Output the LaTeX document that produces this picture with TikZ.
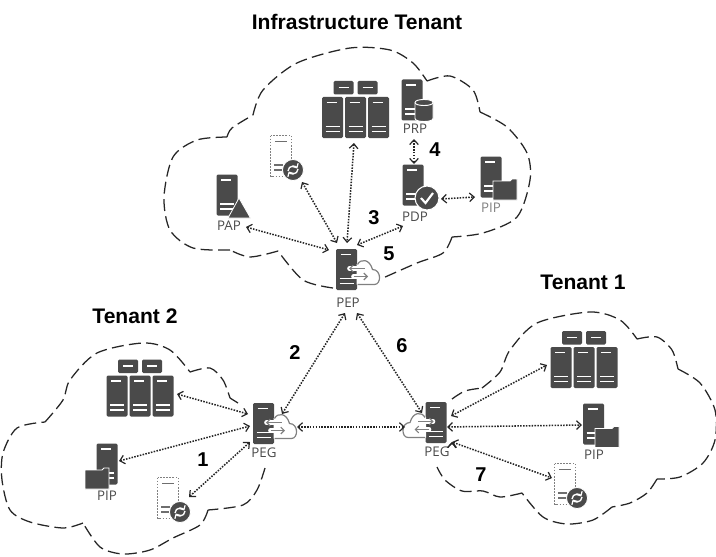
\documentclass[tikz,border=0pt]{standalone}
\usepackage{fontspec}
\setmainfont{Liberation Sans}
\newfontfamily\iconfont{Open Sans}
\usetikzlibrary{arrows.meta}
\definecolor{icondark}{HTML}{4A4A4A}
\definecolor{icongray}{HTML}{808080}
\tikzset{
	cloudline/.style={draw=black!85, line width=0.95pt, dash pattern=on 9pt off 4pt},
	link/.style={<->, >={Straight Barb[length=3.5pt,width=6.5pt,line width=0.9pt]}, black!85, line width=1.15pt, densely dotted},
	smalltip/.style={>={Straight Barb[length=2.5pt,width=5pt,line width=0.9pt]}},
	bigtitle/.style={font=\bfseries\fontsize{15.8}{18}\selectfont, inner sep=0pt},
	stepnum/.style={font=\bfseries\fontsize{15}{17}\selectfont, inner sep=0pt},
	srvname/.style={font=\iconfont\fontsize{10}{12}\selectfont, text=icondark, inner sep=0pt},
	server/.pic={
		\fill[icondark, rounded corners=1pt] (-10.5,-20.5) rectangle (10.5,20.5);
		\draw[white, line width=0.9pt] (-6,-15) -- (4,-15) (-7,9) -- (7,9) (-7,14) -- (7,14);
	},
	cluster/.pic={
		\foreach \sx in {-23,0,23} {\pic at (\sx,0) {server};}
		\foreach \sx in {-12,12} {
			\fill[icondark, rounded corners=1pt] (\sx-10,-36.5) rectangle (\sx+10,-23);
			\draw[white, line width=0.9pt] (\sx-5,-30) -- (\sx+5,-30);
		}
	},
	syncball/.pic={
		\fill[icondark, draw=white, line width=0.6pt] (0,0) circle (10.5);
		\draw[white, line width=1pt, ->, smalltip] (-5,1) arc[start angle=180, end angle=330, radius=5];
		\draw[white, line width=1pt, ->, smalltip] (5,-1) arc[start angle=0, end angle=150, radius=5];
	},
	ghost/.pic={
		\draw[icongray, line width=1.3pt, densely dotted] (-10.5,-20.5) rectangle (10.5,20.5);
		\draw[icondark!80, line width=0.9pt] (-6,-14.5) -- (6,-14.5) (-7,9) -- (2,9) (-7,14) -- (2,14);
		\pic at (12,14) {syncball};
	},
	folder/.pic={
		\fill[icondark, draw=white, line width=0.6pt] (-12,-9) -- (5,-9) -- (7,-11) -- (12,-11) -- (12,10) -- (-12,10) -- cycle;
	},
	database/.pic={
		\fill[icondark, draw=white, line width=0.7pt] (-9,-8) -- (-9,8) .. controls (-9,12) and (9,12) .. (9,8) -- (9,-8) .. controls (9,-12) and (-9,-12) .. (-9,-8) -- cycle;
		\draw[white, line width=0.7pt] (-9,-8) .. controls (-9,-4) and (9,-4) .. (9,-8);
	},
	gate/.pic={
		\pic {server};
		\fill[white] (11,-6) rectangle (28,15);
		\fill[white] (10,15) -- (10,-5) .. controls (14,-11) and (23,-11) .. (26,0) .. controls (35,0) and (35,15) .. (28,15) -- cycle;
		\draw[icongray, line width=0.9pt] (11,-5) .. controls (14,-11) and (23,-11) .. (26,0) .. controls (35,0) and (35,15) .. (28,15) -- (11,15);
		\draw[white, line width=3.5pt, line cap=round] (3,-1) -- (18,-1) (7,7) -- (21,7);
		\draw[icongray, line width=1.3pt, <-, smalltip] (2.5,-1) -- (18,-1);
		\draw[icongray, line width=1.3pt, ->, smalltip] (7,7) -- (21.5,7);
	}
}
\begin{document}
\begin{tikzpicture}[x=0.75pt,y=-0.75pt]
	\useasboundingbox (0,0) rectangle (716,556);

	% infrastructure cloud
	\draw[cloudline] plot[smooth] coordinates {(333,288) (303,280) (278,251)};
	\draw[cloudline] plot[smooth] coordinates {(278,251) (250,257) (230,250)};
	\draw[cloudline] plot[smooth] coordinates {(230,250) (193,248) (170,230) (164,197) (173,157) (197,140) (227,137)};
	\draw[cloudline] plot[smooth] coordinates {(227,137) (232,128) (253,115)};
	\draw[cloudline] plot[smooth] coordinates {(253,115) (263,90) (297,63) (350,48) (390,50) (413,63) (427,81)};
	\draw[cloudline] plot[smooth] coordinates {(427,81) (450,76) (473,90) (480,112)};
	\draw[cloudline] plot[smooth] coordinates {(480,112) (507,127) (527,153) (530,180) (517,217) (483,233) (452,237)};
	\draw[cloudline] plot[smooth] coordinates {(452,237) (443,253) (417,263) (383,278)};

	% tenant 2 cloud
	\draw[cloudline] plot[smooth] coordinates {(265,468) (257,490) (243,505) (208,510)};
	\draw[cloudline] plot[smooth] coordinates {(208,510) (200,525) (173,538) (150,550) (123,554) (100,547) (83,523)};
	\draw[cloudline] plot[smooth] coordinates {(83,523) (63,528) (30,522) (10,510) (2,480) (3,453) (17,428) (45,422)};
	\draw[cloudline] plot[smooth] coordinates {(45,422) (63,400) (70,380) (97,353) (143,343) (170,350) (190,372)};
	\draw[cloudline] plot[smooth] coordinates {(190,372) (210,368) (223,380) (230,398)};
	\draw[cloudline] (230,398) -- (238,403);

	% tenant 1 cloud
	\draw[cloudline] plot[smooth] coordinates {(452,399) (465,391) (482,388)};
	\draw[cloudline] plot[smooth] coordinates {(482,388) (500,372) (510,350) (537,323) (590,312) (620,320) (637,339)};
	\draw[cloudline] plot[smooth] coordinates {(637,339) (657,337) (672,350) (678,369)};
	\draw[cloudline] plot[smooth] coordinates {(678,369) (700,383) (715,410) (715,440) (703,463) (680,477) (657,479)};
	\draw[cloudline] plot[smooth] coordinates {(657,479) (647,493) (630,503) (612,507)};
	\draw[cloudline] plot[smooth] coordinates {(612,507) (593,520) (567,524) (543,517) (522,493)};
	\draw[cloudline] plot[smooth] coordinates {(522,493) (500,497) (483,491) (462,491) (445,480) (437,467)};

	% icons
	\pic at (355.5,117.5) {cluster};
	\pic at (412,100) {server};
	\pic at (424,110.5) {database};
	\pic at (281,156) {ghost};
	\pic at (227,195) {server};
	\filldraw[icondark, draw=white, line width=0.6pt] (239,198) -- (250.5,218) -- (228,218) -- cycle;
	\pic at (413,185) {server};
	\fill[icondark, draw=white, line width=0.8pt] (427,198) circle (12);
	\draw[white, line width=1.6pt] (421,198) -- (425.5,203) -- (433,193);
	\pic at (491,177) {server};
	\pic at (505,190) {folder};
	\pic at (346.5,269.5) {gate};

	\pic at (140,396) {cluster};
	\pic at (107,464) {server};
	\pic at (97,479) {folder};
	\pic at (168,498) {ghost};
	\pic at (263.5,423.5) {gate};

	\pic at (584,367.5) {cluster};
	\pic at (593.5,424) {server};
	\pic at (607,437.5) {folder};
	\pic at (565,484) {ghost};
	\pic[xscale=-1] at (436,422.5) {gate};

	% names
	\node[srvname] (prp) at (415,129) {PRP};
	\node[srvname] (pdp) at (415,217) {PDP};
	\node[srvname, text=icongray] (pipa) at (491,208) {PIP};
	\node[srvname] (pap) at (229,226) {PAP};
	\node[srvname] (pep) at (348,303) {PEP};
	\node[srvname] (pegb) at (264,453) {PEG};
	\node[srvname] (pipb) at (107,496) {PIP};
	\node[srvname] (pega) at (437,452) {PEG};
	\node[srvname] (pipc) at (594,455) {PIP};

	\node[bigtitle] (infra) at (357,22) {Infrastructure Tenant};
	\node[bigtitle] (tenanta) at (583,282) {Tenant 1};
	\node[bigtitle] (tenantb) at (135,316) {Tenant 2};

	\node[stepnum] (one) at (203,460) {1};
	\node[stepnum] (two) at (295,353) {2};
	\node[stepnum] (three) at (374,218) {3};
	\node[stepnum] (four) at (435,150) {4};
	\node[stepnum] (five) at (389,254) {5};
	\node[stepnum] (six) at (402,346) {6};
	\node[stepnum] (seven) at (481,475) {7};

	% link ends
	\coordinate (papE) at (246,227);
	\coordinate (pepW) at (329,250);
	\coordinate (ghostE) at (302,182);
	\coordinate (pepNW) at (337,243);
	\coordinate (clusterS) at (354,143);
	\coordinate (pepN) at (347,243);
	\coordinate (pdpW) at (403,226);
	\coordinate (pepNE) at (357,245);
	\coordinate (prpS) at (414,139);
	\coordinate (pdpN) at (414,164);
	\coordinate (pdpE) at (441,199);
	\coordinate (pipW) at (475,197);
	\coordinate (pepSW) at (345,313);
	\coordinate (pepSE) at (357,313);
	\coordinate (pegbN) at (282,414);
	\coordinate (pegaN) at (422,413);
	\coordinate (pegbE) at (297,427);
	\coordinate (pegaW) at (405,427);
	\coordinate (clusterbE) at (177,394);
	\coordinate (pegbNW) at (248,414);
	\coordinate (pipbE) at (119,461);
	\coordinate (pegbW) at (250,426);
	\coordinate (ghostbE) at (189,497);
	\coordinate (pegbSW) at (250,442);
	\coordinate (pegaNE) at (451,416);
	\coordinate (clusteraW) at (547,365);
	\coordinate (pegaE) at (447,427);
	\coordinate (pipcW) at (582,425);
	\coordinate (pegaSE) at (452,442);
	\coordinate (ghostaW) at (552,478);

	\draw[link]
		(papE) edge (pepW)
		(ghostE) edge (pepNW)
		(clusterS) edge (pepN)
		(pdpW) edge (pepNE)
		(prpS) edge (pdpN)
		(pdpE) edge (pipW)
		(pepSW) edge (pegbN)
		(pepSE) edge (pegaN)
		(pegbE) edge (pegaW)
		(clusterbE) edge (pegbNW)
		(pipbE) edge (pegbW)
		(ghostbE) edge (pegbSW)
		(pegaNE) edge (clusteraW)
		(pegaE) edge (pipcW)
		(pegaSE) edge (ghostaW);
\end{tikzpicture}
\end{document}
